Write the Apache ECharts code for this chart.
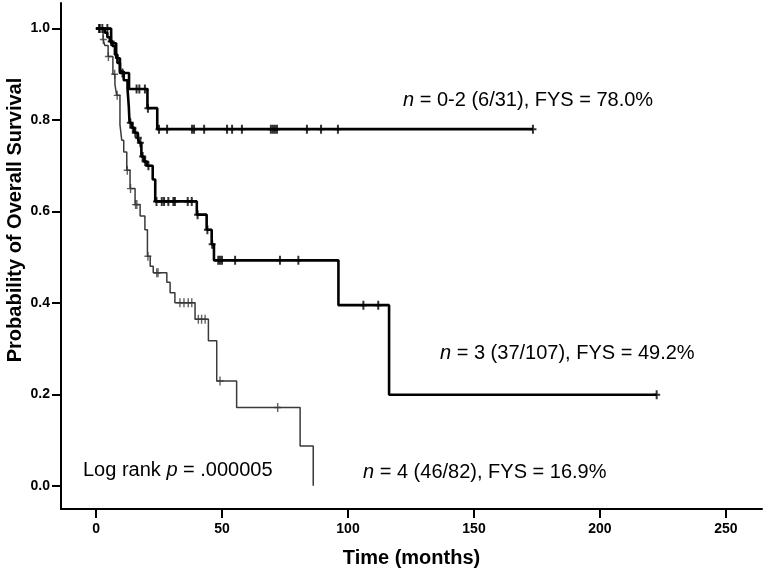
<!DOCTYPE html>
<html>
<head>
<meta charset="utf-8">
<script src="https://cdn.jsdelivr.net/npm/echarts@6/dist/echarts.min.js"></script>
<style>
html,body{margin:0;padding:0;background:#fff;}
#chart{width:765px;height:573px;}
</style>
</head>
<body>
<div id="chart"></div>
<script>
// ---- Data (months, survival probability) ----
const g02Times = [0, 6, 8, 9.5, 13.1, 20.4, 24.3, 173.4];
const g02Surv  = [1.0, 0.968, 0.935, 0.903, 0.868, 0.826, 0.780, 0.780];
const g02Cens  = [1.5, 4.5, 10.5, 16.1, 17.2, 19.4, 20.6, 25, 28.2, 38.1, 38.9, 42.9, 52, 54, 57.9, 69.4, 70.2, 71, 71.8, 83.7, 89.3, 96, 173.4];

const g3Times = [0, 3.5, 4.5, 5.5, 6.5, 7.5, 8.5, 9.5, 11, 12.5, 13, 13.3, 14.2, 15.2, 16.5, 17.2, 18, 19, 20.2, 22.5, 23.5, 40, 43.9, 45.9, 46.8, 96.2, 116.3, 222.5];
const g3Surv  = [1.0, 0.991, 0.981, 0.972, 0.962, 0.943, 0.925, 0.906, 0.887, 0.868, 0.830, 0.794, 0.783, 0.772, 0.761, 0.750, 0.720, 0.709, 0.700, 0.670, 0.622, 0.593, 0.560, 0.528, 0.493, 0.395, 0.199, 0.199];
const g3Cens  = [1.2, 2.5, 6, 13.6, 14.6, 15.6, 16.8, 17.6, 18.5, 19.5, 20.8, 24, 26.1, 27, 28.7, 30.7, 31.3, 36.4, 38, 40.3, 44.2, 46.1, 48.5, 49.2, 50, 55.2, 73, 80.3, 106.1, 112, 222.5];

const g4Times = [0, 2.8, 3.5, 4.8, 6.7, 7.5, 8.2, 9.5, 10.2, 11, 12.2, 13.5, 15.5, 17.5, 19.4, 20.4, 21.5, 22.7, 28.1, 29.4, 31.3, 39.3, 44.6, 47.9, 55.8, 81, 86.2];
const g4Surv  = [1.0, 0.976, 0.963, 0.939, 0.900, 0.878, 0.854, 0.790, 0.756, 0.730, 0.690, 0.650, 0.615, 0.590, 0.560, 0.502, 0.480, 0.466, 0.445, 0.422, 0.400, 0.364, 0.317, 0.229, 0.171, 0.087, 0.0];
const g4Cens  = [2.9, 4.9, 7.4, 8.4, 12.4, 13.7, 15.7, 16.2, 20.6, 24.1, 24.6, 33.3, 34.9, 36.6, 38, 40.6, 41.9, 43.3, 49.2, 72.1];

const xTicks = [0, 50, 100, 150, 200, 250];
const yTicks = [0, 0.2, 0.4, 0.6, 0.8, 1.0];

const label02 = 'n = 0-2 (6/31), FYS = 78.0%';
const label3  = 'n = 3 (37/107), FYS = 49.2%';
const label4  = 'n = 4 (46/82), FYS = 16.9%';
const labelP  = 'Log rank p = .000005';

// ---- helpers ----
function stepData(times, surv) { return times.map((t, i) => [t, surv[i]]); }
function survAt(times, surv, t) {
  let s = surv[0];
  for (let i = 0; i < times.length; i++) { if (times[i] <= t) s = surv[i]; }
  return s;
}
function censData(times, surv, cens) { return cens.map(t => [t, survAt(times, surv, t)]); }
function italicFirst(str, word) {
  return str.replace(word, '{i|' + word + '}');
}

const FONT = '"Liberation Sans", Arial, Helvetica, sans-serif';
const crossThick = 'path://M-1,-4.5H1V-1H3.5V1H1V4.5H-1V1H-3.5V-1H-1Z';
const crossThin = 'path://M-0.7,-4.5H0.7V-0.7H3.5V0.7H0.7V4.5H-0.7V0.7H-3.5V-0.7H-0.7Z';

const chart = echarts.init(document.getElementById('chart'), null, {renderer: 'canvas'});

const annoStyle = (text, x, y, word) => ({
  type: 'text',
  x: x, y: y,
  style: {
    text: italicFirst(text, word),
    fontFamily: FONT, fontSize: 20, fill: '#000',
    align: 'left', verticalAlign: 'middle',
    rich: { i: { fontStyle: 'italic', fontFamily: FONT, fontSize: 20, fill: '#000' } }
  }
});

const option = {
  animation: false,
  backgroundColor: '#fff',
  grid: { left: 61, right: 3, top: 3, bottom: 63, containLabel: false },
  xAxis: {
    type: 'value', min: -13.9, max: 264.3,
    name: 'Time (months)', nameLocation: 'middle', nameGap: 39,
    nameTextStyle: { fontFamily: FONT, fontSize: 20, fontWeight: 'bold', color: '#000' },
    axisLine: { onZero: false, lineStyle: { color: '#000', width: 2 } },
    axisTick: { show: true, customValues: xTicks, length: 9, lineStyle: { color: '#000', width: 2 } },
    axisLabel: { customValues: xTicks, fontFamily: FONT, fontSize: 14, fontWeight: 'bold', color: '#000', margin: 13 },
    splitLine: { show: false }
  },
  yAxis: {
    type: 'value', min: -0.051, max: 1.056,
    axisLine: { onZero: false, lineStyle: { color: '#000', width: 2 } },
    axisTick: { show: true, customValues: yTicks, length: 9, lineStyle: { color: '#000', width: 2 } },
    axisLabel: { customValues: yTicks, fontFamily: FONT, fontSize: 14, fontWeight: 'bold', color: '#000', margin: 11,
      formatter: v => v.toFixed(1) },
    splitLine: { show: false }
  },
  graphic: [
    {
      type: 'text', x: 15, y: 220, rotation: Math.PI / 2,
      style: { text: 'Probability of Overall Survival', fontFamily: FONT, fontSize: 20, fontWeight: 'bold',
        fill: '#000', align: 'center', verticalAlign: 'middle' }
    },
    annoStyle(label02, 403, 100, 'n'),
    annoStyle(label3, 440, 353, 'n'),
    annoStyle(label4, 363, 472, 'n'),
    annoStyle(labelP, 83, 470, 'p')
  ],
  series: [
    { name: 'n = 4', type: 'line', step: 'end', data: stepData(g4Times, g4Surv), symbol: 'none',
      lineStyle: { color: '#3a3a3a', width: 1.5 }, z: 2 },
    { name: 'n = 4 censored', type: 'scatter', data: censData(g4Times, g4Surv, g4Cens), symbol: crossThin,
      symbolSize: [7, 9], itemStyle: { color: '#3a3a3a' }, z: 3 },
    { name: 'n = 3', type: 'line', step: 'end', data: stepData(g3Times, g3Surv), symbol: 'none',
      lineStyle: { color: '#000', width: 2.6 }, z: 4 },
    { name: 'n = 3 censored', type: 'scatter', data: censData(g3Times, g3Surv, g3Cens), symbol: crossThick,
      symbolSize: [7, 9], itemStyle: { color: '#000' }, z: 5 },
    { name: 'n = 0-2', type: 'line', step: 'end', data: stepData(g02Times, g02Surv), symbol: 'none',
      lineStyle: { color: '#000', width: 2.6 }, z: 6 },
    { name: 'n = 0-2 censored', type: 'scatter', data: censData(g02Times, g02Surv, g02Cens), symbol: crossThick,
      symbolSize: [7, 9], itemStyle: { color: '#000' }, z: 7 }
  ]
};
chart.setOption(option);
</script>
</body>
</html>
